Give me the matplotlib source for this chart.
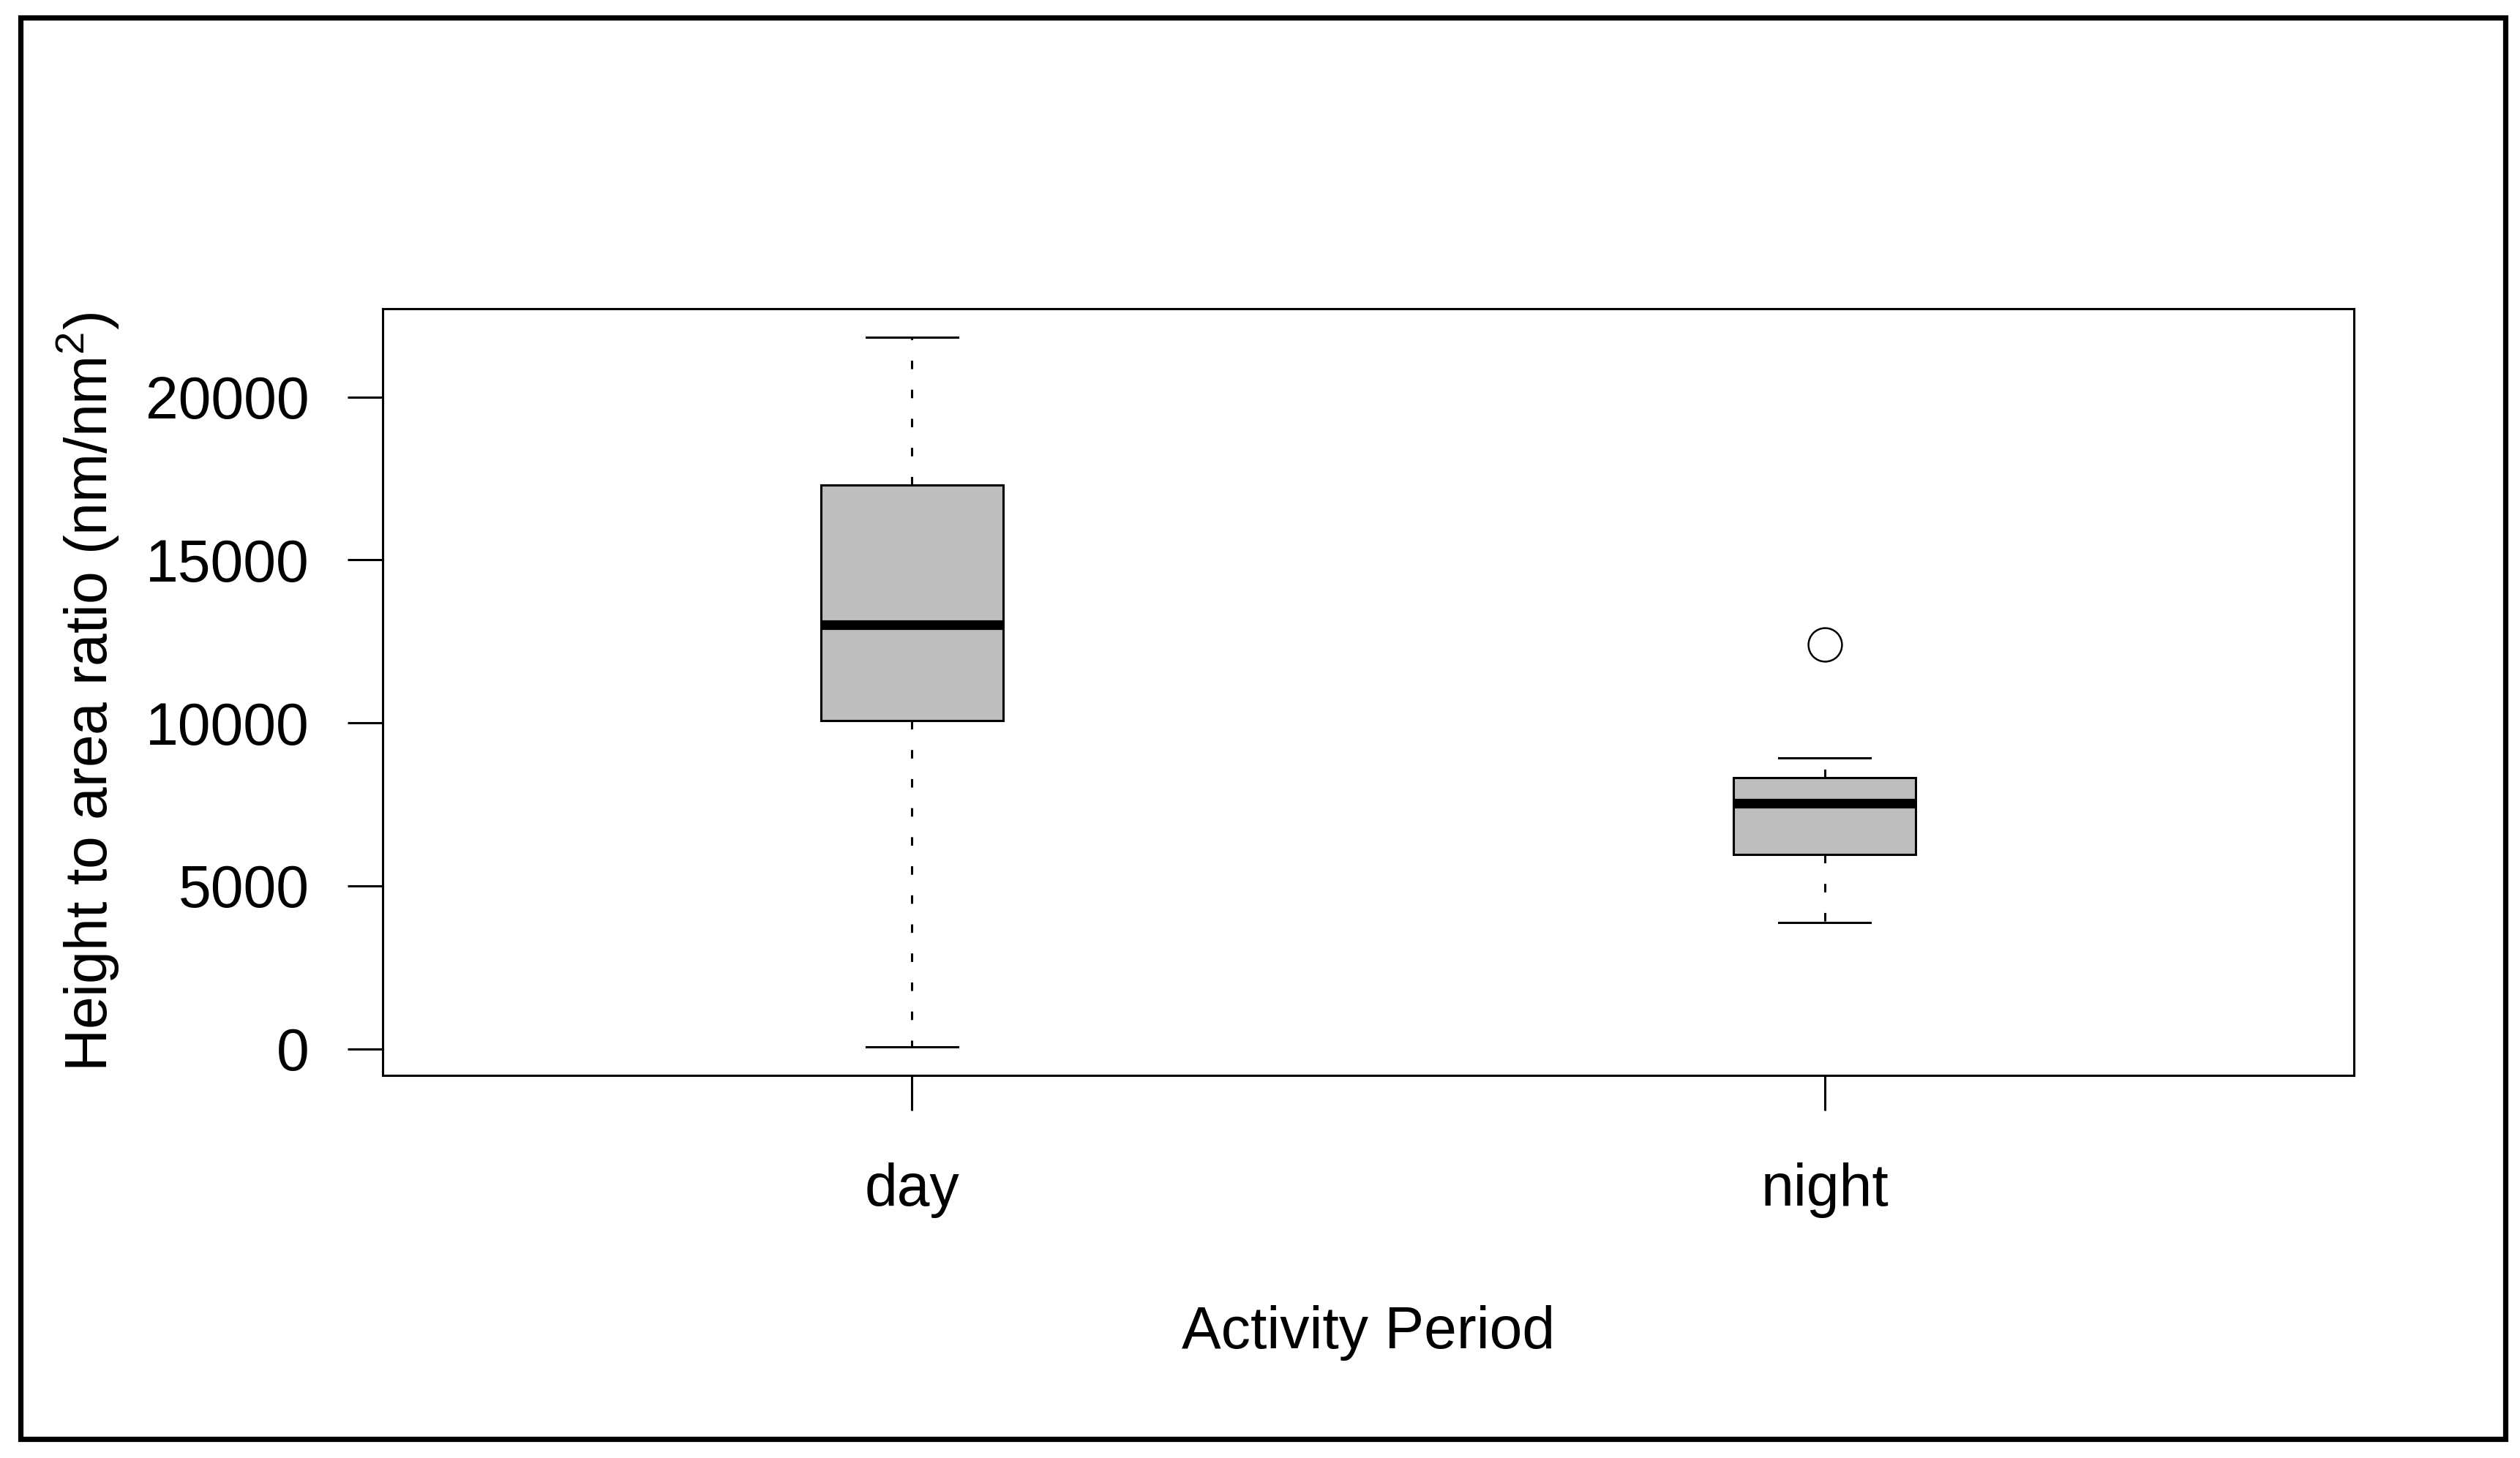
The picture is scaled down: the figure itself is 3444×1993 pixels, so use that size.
import matplotlib
matplotlib.use("Agg")
import matplotlib.pyplot as plt
from matplotlib.patches import Rectangle

plt.rcParams['font.family'] = ['Liberation Sans', 'DejaVu Sans']
plt.rcParams['mathtext.fontset'] = 'custom'
plt.rcParams['mathtext.rm'] = 'Liberation Sans'
plt.rcParams['mathtext.it'] = 'Liberation Sans:italic'
plt.rcParams['mathtext.bf'] = 'Liberation Sans:bold'

# ---- data ----
categories = ["day", "night"]
whislo = [55, 3880]
q1 = [10068, 5973]
med = [13016, 7525]
q3 = [17291, 8313]
whishi = [21837, 8920]
fliers = [[], [12408]]
yticks = [0, 5000, 10000, 15000, 20000]
ylabel = r"Height to area ratio (nm/nm$^2$)"
xlabel = "Activity Period"

W, H = 3444, 1993
DPI = 100
fig = plt.figure(figsize=(W / DPI, H / DPI), dpi=DPI)
fig.patch.set_facecolor("white")

# outer frame
fig.patches.append(Rectangle((27.5 / W, 1 - 1966.5 / H), (3423.5 - 27.5) / W,
                             (1966.5 - 23.5) / H, transform=fig.transFigure,
                             fill=False, edgecolor="black", linewidth=5.2))

ax = fig.add_axes([523 / W, 1 - 1470 / H, (3217 - 523) / W, (1470 - 422) / H])

stats = []
for i, c in enumerate(categories):
    stats.append(dict(label=c, whislo=whislo[i], q1=q1[i], med=med[i],
                      q3=q3[i], whishi=whishi[i], fliers=fliers[i]))

LW = 2.2
ax.bxp(stats, positions=[1, 2], widths=0.2, capwidths=0.1, patch_artist=True,
       showfliers=True,
       boxprops=dict(facecolor="#bebebe", edgecolor="black", linewidth=LW),
       whiskerprops=dict(color="black", linewidth=LW, linestyle=(0, (3.8, 9.2)),
                         dash_capstyle="butt"),
       capprops=dict(color="black", linewidth=LW),
       medianprops=dict(color="black", linewidth=9.5, solid_capstyle="butt"),
       flierprops=dict(marker="o", markersize=33, markerfacecolor="white",
                       markeredgecolor="black", markeredgewidth=1.8,
                       linestyle="none"))

allv = whislo + whishi + [v for f in fliers for v in f]
lo, hi = min(allv), max(allv)
pad = 0.04 * (hi - lo)
ax.set_ylim(lo - pad, hi + pad)
ax.set_xlim(0.42, 2.58)

ax.set_yticks(yticks)
ax.set_yticklabels([str(t) for t in yticks])
ax.set_xticks([1, 2])
ax.set_xticklabels(categories)

for s in ax.spines.values():
    s.set_linewidth(LW)
    s.set_color("black")

ax.tick_params(axis="both", direction="out", length=34.5, width=LW,
               labelsize=58, colors="black")
ax.tick_params(axis="y", pad=38)
ax.tick_params(axis="x", pad=51)

ax.set_xlabel(xlabel, fontsize=58, labelpad=86)
ax.set_ylabel(ylabel, fontsize=58, labelpad=24)

fig.savefig("out.png", dpi=DPI, facecolor="white")
